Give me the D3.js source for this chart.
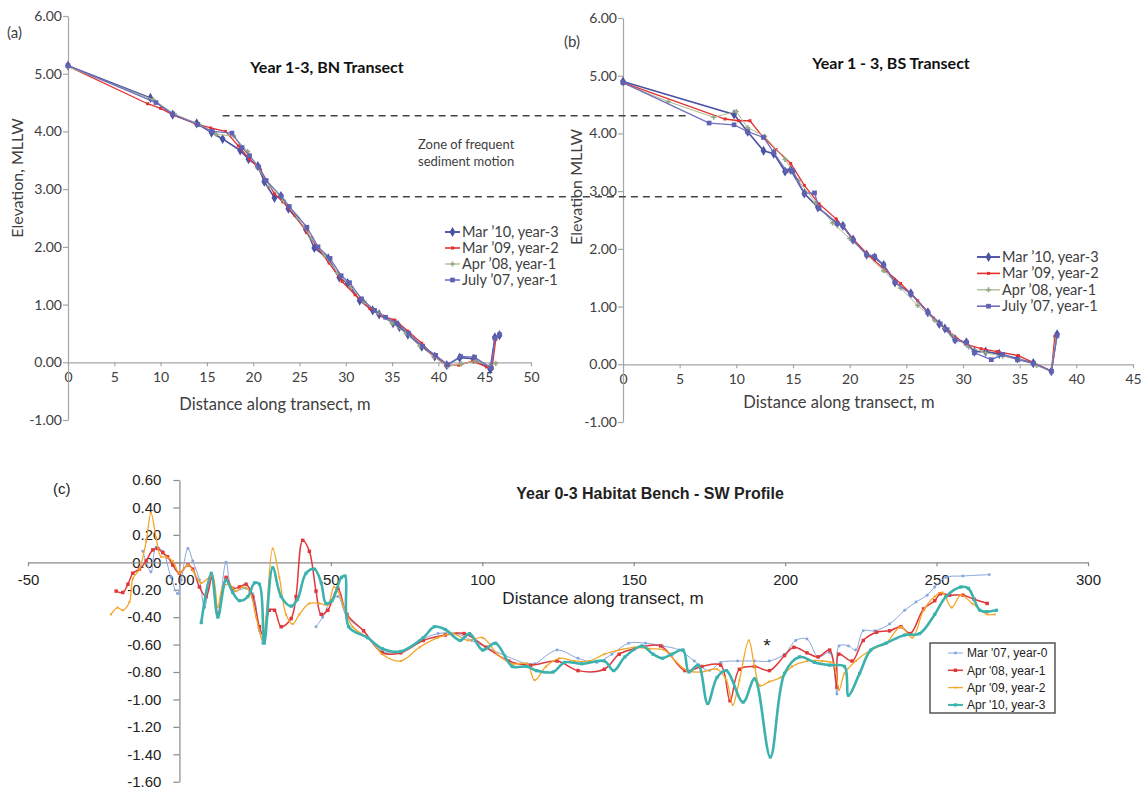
<!DOCTYPE html>
<html>
<head>
<meta charset="utf-8">
<script src="https://cdn.jsdelivr.net/npm/d3@7"></script>
<style>
body { margin: 0; background: #fff; }
svg { display: block; }
.ab text { font-family: Lato, "Open Sans", sans-serif; fill: #404040; }
.pc text { font-family: "Liberation Sans", Arial, sans-serif; fill: #222; }
</style>
</head>
<body>
<svg width="1146" height="791"></svg>
<script>
// ---- data: panel (a) BN transect, [distance m, elevation MLLW]
var bnMar10 = [[0,5.14],[8.9,4.58],[11.3,4.29],[13.9,4.14],[15.5,3.98],[16.7,3.87],[18.6,3.67],[19.5,3.52],[20.5,3.40],[21.2,3.13],[22.3,2.85],[23.0,2.88],[23.8,2.66],[25.7,2.30],[26.6,1.98],[28.1,1.80],[29.3,1.47],[30.2,1.37],[31.5,1.07],[32.9,0.90],[33.6,0.83],[35.1,0.68],[35.8,0.61],[36.7,0.48],[38.2,0.27],[39.6,0.10],[40.9,-0.05],[42.3,0.08],[43.8,0.06],[45.6,-0.12],[46.1,0.43],[46.6,0.47]];
var bnMar09 = [[0,5.13],[8.6,4.48],[10,4.40],[11.4,4.28],[13.8,4.13],[15.4,4.06],[17,4.00],[18.4,3.75],[19.6,3.52],[20.8,3.33],[22.3,2.92],[23.2,2.78],[24.5,2.55],[25.8,2.25],[27,1.98],[28.2,1.72],[29.6,1.40],[31,1.17],[32.6,0.93],[34,0.80],[35.3,0.73],[36.7,0.54],[38.2,0.33],[39.5,0.11],[40.8,-0.05],[42.2,-0.05],[43.7,0.02],[45.2,-0.08],[45.8,-0.10],[46.2,0.40]];
var bnApr08 = [[0,5.12],[9.2,4.55],[11.5,4.30],[14.2,4.12],[16,3.95],[17.9,3.92],[19.4,3.65],[20.5,3.37],[21.8,3.05],[23.3,2.80],[24.8,2.50],[26.3,2.15],[27.7,1.85],[29.1,1.55],[30.6,1.30],[32,1.05],[33.5,0.86],[35,0.68],[36.5,0.50],[38,0.28],[39.5,0.10],[41,-0.07],[42.5,-0.03],[44,0.02],[45.5,-0.06],[46.2,-0.02]];
var bnJul07 = [[0,5.14],[9.5,4.50],[11.3,4.30],[14,4.12],[15.6,4.00],[17.7,3.97],[18.8,3.72],[19.6,3.58],[20.6,3.38],[21.4,3.15],[23,2.88],[23.9,2.70],[25.8,2.34],[27,2.00],[28.3,1.80],[29.5,1.50],[30.4,1.38],[31.7,1.10],[33.1,0.90],[34.3,0.78],[35.5,0.68],[36.8,0.50],[38.3,0.28],[39.7,0.12],[41,-0.04],[42.4,0.10],[43.9,0.09],[45.7,-0.10],[46.1,0.42],[46.6,0.48]];

// ---- data: panel (b) BS transect
var bsMar10 = [[0,4.90],[9.8,4.33],[11,4.03],[12.4,3.70],[13.3,3.65],[14.3,3.34],[14.8,3.37],[16,2.96],[17.2,2.72],[18.9,2.44],[19.4,2.40],[20.3,2.16],[21.5,1.90],[22.2,1.85],[23,1.72],[24,1.42],[25.4,1.23],[26.9,0.90],[27.9,0.70],[28.4,0.62],[29.3,0.43],[30.3,0.38],[31,0.22],[32,0.22],[33.2,0.18],[34.8,0.10],[36.2,0.02],[37.8,-0.12],[38.3,0.52]];
var bsMar09 = [[0,4.88],[9,4.25],[10.2,4.22],[11.2,4.22],[12.3,3.95],[13.5,3.72],[14.8,3.48],[16,3.10],[17.3,2.78],[18.8,2.52],[20.3,2.17],[21.7,1.88],[23.2,1.62],[24.5,1.40],[26,1.10],[27.4,0.80],[28.8,0.56],[30.2,0.35],[31.6,0.27],[33,0.22],[34.9,0.15],[36.3,0.02],[37.8,-0.12],[38.1,0.48]];
var bsApr08 = [[0,4.87],[4,4.55],[8,4.28],[10,4.38],[11,4.10],[12.5,3.95],[14.3,3.55],[15.5,3.18],[17,2.80],[18.5,2.45],[20,2.18],[21.5,1.90],[23,1.62],[24.5,1.32],[26,1.02],[27.5,0.76],[29,0.50],[30.5,0.30],[32,0.20],[33.5,0.14],[35,0.08],[36.5,-0.02],[37.8,-0.12],[38.2,0.46]];
var bsJul07 = [[0,4.88],[7.6,4.18],[9.8,4.15],[11,4.03],[12.4,3.93],[13.3,3.67],[14.4,3.35],[15,3.35],[16,2.96],[16.9,2.97],[17.3,2.70],[18.9,2.44],[19.4,2.40],[20.3,2.15],[21.5,1.90],[22.2,1.87],[23,1.72],[24,1.42],[25.4,1.22],[26.9,0.90],[28,0.70],[28.6,0.60],[29.3,0.42],[30.3,0.38],[31,0.20],[32.5,0.08],[33.5,0.17],[34.8,0.08],[36.2,0.02],[37.8,-0.12],[38.3,0.50]];

var abLabels = ["Mar \u201910, year-3", "Mar \u201909, year-2", "Apr \u201908,  year-1", "July \u201907, year-1"];
var abTicksX_a = [0,5,10,15,20,25,30,35,40,45,50];
var abTicksX_b = [0,5,10,15,20,25,30,35,40,45];
var abTicksY = [-1,0,1,2,3,4,5,6];

// zone of frequent sediment motion (elevations, start in (a), end in (b))
var zoneElev = [4.27, 2.87];
var zoneStartA = [16.7, 24.5];
var zoneEndB = [5.9, 14.4];

// ---- data: panel (c) SW profile
var c07 = [[-12.1,0.08],[-9.4,-0.07],[-7.7,0.11],[-5.5,0.08],[-2.8,-0.11],[-0.6,-0.23],[0.6,-0.13],[2.8,0.10],[4.4,0.01],[6.6,-0.13],[8.3,-0.33],[10.5,-0.11],[12.7,-0.38],[15.4,0.0],[17.6,-0.21],[22,-0.19],[24.2,-0.23],[26.4,-0.50],[27.5,-0.59],null,[45.1,-0.47],[47.3,-0.40],[49.5,-0.30],[52.3,-0.25],[55.3,-0.40],[60.8,-0.50],[67,-0.65],[73.1,-0.65],[79.3,-0.57],[85.4,-0.52],[91.5,-0.52],[96.4,-0.57],[101.3,-0.62],[107.5,-0.68],[114.8,-0.74],[117.3,-0.74],[124.7,-0.64],[131.6,-0.70],[137.8,-0.73],[142.8,-0.67],[148.3,-0.59],[153.9,-0.59],[159.5,-0.61],[165.1,-0.64],[170,-0.72],[175,-0.79],[178.7,-0.73],[184.3,-0.72],[189.9,-0.72],[194.8,-0.72],[199.8,-0.67],[203.5,-0.57],[207.2,-0.56],[210.9,-0.69],[214.7,-0.66],[217.1,-0.96],[217.8,-0.61],[220.9,-0.61],[223.3,-0.64],[225.8,-0.50],[229.5,-0.50],[234.5,-0.45],[239.5,-0.35],[243.2,-0.29],[246.9,-0.24],[249.4,-0.18],[253.1,-0.11],[258.7,-0.10],[267.4,-0.09]];
var c08 = [[-20.9,-0.21],[-18.7,-0.22],[-17,-0.16],[-15.4,-0.08],[-13.2,-0.05],[-11,0.01],[-8.8,0.09],[-7.2,0.10],[-5.5,0.07],[-3.9,0.04],[-2.2,-0.02],[0,-0.08],[2.8,-0.02],[4.4,-0.05],[6.6,-0.18],[8.8,-0.25],[10.8,-0.11],[12.7,-0.38],[15.4,-0.11],[17.6,-0.19],[19.8,-0.18],[22,-0.16],[24.2,-0.25],[26.4,-0.47],[28,-0.55],[29.7,-0.35],[31.4,-0.35],[33.6,-0.47],[36.9,-0.41],[38.5,-0.25],[40.7,0.16],[42.9,0.08],[45.1,-0.21],[46.8,-0.38],[49,-0.35],[52.3,-0.19],[55.3,-0.38],[60.8,-0.50],[67,-0.66],[73.1,-0.66],[80.5,-0.57],[87.8,-0.53],[94,-0.52],[101.3,-0.62],[108.7,-0.72],[116,-0.75],[124.7,-0.72],[131.6,-0.79],[140.3,-0.78],[145.2,-0.67],[150.2,-0.63],[158.9,-0.61],[166.9,-0.79],[172.5,-0.76],[178.7,-0.75],[181.8,-1.01],[184.9,-0.78],[189.9,-0.76],[194.8,-0.79],[199.8,-0.68],[202.9,-0.62],[207.2,-0.66],[210.9,-0.69],[214.7,-0.64],[217.1,-0.91],[217.7,-0.67],[222.1,-0.72],[225.8,-0.57],[230.2,-0.51],[234.5,-0.50],[238.2,-0.47],[241.3,-0.52],[245.7,-0.34],[249.4,-0.28],[251.2,-0.23],[254.3,-0.24],[258.7,-0.24],[262.4,-0.27],[266.7,-0.30]];
var c09 = [[-22.6,-0.38],[-20.4,-0.33],[-18.7,-0.35],[-16.5,-0.29],[-15.4,-0.12],[-13.2,-0.05],[-11,0.15],[-9.4,0.36],[-7.7,0.18],[-6.1,0.04],[-4.4,0.04],[-2.2,0.01],[0,-0.08],[2.8,-0.02],[4.4,-0.06],[7.2,-0.15],[9.9,-0.11],[11,-0.10],[12.7,-0.33],[14.3,-0.18],[16.5,-0.16],[18.7,-0.21],[20.9,-0.18],[23.1,-0.21],[25.3,-0.40],[27.5,-0.57],[28.6,-0.40],[30.8,0.10],[33,-0.11],[35.2,-0.38],[37.4,-0.45],[39.6,-0.38],[42.9,-0.30],[46.2,-0.30],[49,-0.31],[51,-0.18],[52.3,-0.21],[54.7,-0.35],[57.2,-0.47],[63.3,-0.57],[67,-0.67],[73.1,-0.72],[79.3,-0.62],[85.4,-0.55],[90.3,-0.52],[95.2,-0.57],[100.1,-0.55],[105,-0.67],[109.9,-0.74],[114.8,-0.74],[117.3,-0.86],[121,-0.76],[125.4,-0.70],[130.4,-0.72],[135.3,-0.72],[140.3,-0.67],[145.2,-0.64],[150.2,-0.62],[155.2,-0.63],[160.1,-0.64],[163.8,-0.72],[167.6,-0.79],[172.5,-0.80],[177.5,-0.78],[180.6,-0.86],[182.7,-1.04],[184.9,-0.86],[188,-0.57],[189.9,-0.76],[191.7,-0.90],[194.8,-0.87],[198.5,-0.84],[202.3,-0.76],[207.2,-0.72],[212.2,-0.72],[215.9,-0.74],[217.8,-0.93],[219.6,-0.81],[223.3,-0.72],[228.3,-0.64],[233.3,-0.59],[238.2,-0.47],[242,-0.55],[245.7,-0.35],[249.4,-0.25],[251.9,-0.22],[255,-0.33],[258,-0.24],[261.8,-0.30],[266.7,-0.38],[269.2,-0.38]];
var c10 = [[7.2,-0.44],[10.5,-0.08],[12.7,-0.40],[15.4,-0.13],[17.6,-0.22],[19.8,-0.28],[22.6,-0.25],[24.8,-0.15],[26.4,-0.16],[28,-0.59],[30.8,-0.04],[33.6,-0.25],[36.9,-0.32],[39,-0.27],[41.8,-0.08],[44.6,-0.05],[46.8,-0.15],[48.4,-0.30],[50.4,-0.28],[53.5,-0.11],[54.7,-0.10],[55.9,-0.47],[62.1,-0.55],[67,-0.63],[73.1,-0.65],[80.5,-0.55],[84.2,-0.47],[87.8,-0.49],[92.7,-0.57],[95.8,-0.52],[100.1,-0.64],[104.4,-0.59],[109.9,-0.76],[114.8,-0.76],[117.9,-0.79],[123.4,-0.80],[127.1,-0.73],[132.8,-0.74],[140.3,-0.72],[143.4,-0.79],[147.1,-0.69],[152.7,-0.61],[156.4,-0.67],[159.5,-0.70],[162.6,-0.67],[166.3,-0.64],[168.2,-0.80],[171.3,-0.75],[174.4,-1.03],[177.5,-0.84],[180.6,-0.79],[186.1,-1.02],[189.9,-0.85],[195.1,-1.42],[199.8,-0.81],[204.7,-0.69],[209.7,-0.73],[214.7,-0.75],[219.6,-0.76],[220.9,-0.97],[224.6,-0.81],[228.3,-0.64],[233.3,-0.59],[239.5,-0.53],[244.4,-0.52],[249.4,-0.38],[253.1,-0.25],[258,-0.18],[260.5,-0.19],[264.3,-0.35],[266.7,-0.36],[269.8,-0.35]];

var cLabels = ["Mar '07, year-0", "Apr '08, year-1", "Apr '09, year-2", "Apr '10, year-3"];
var cTicksX = [-50,0,50,100,150,200,250,300];
var cTickLabelsX = ["-50","0.00","50","100","150","200","250","300"];
var cTicksY = [0.6,0.4,0.2,0,-0.2,-0.4,-0.6,-0.8,-1.0,-1.2,-1.4,-1.6];
var asterisk = [194, -0.58];

var svg = d3.select("svg");

// plain hyphen minus, like the original figure
var fmt2 = function (d) { return d3.format(".2f")(d).replace("\u2212", "-"); };

// styles for the transect series (a) and (b)
var abStyles = [
    {color: "#4b52a3", width: 1.6, symbol: d3.symbolDiamond, size: 30, mcolor: "#4b52a3"},
    {color: "#e3302f", width: 1.3, symbol: d3.symbolSquare, size: 9, mcolor: "#e3302f"},
    {color: "#a9bb8e", width: 1, symbol: d3.symbolCross, size: 14, mcolor: "#98a884"},
    {color: "#6f70bd", width: 1.3, symbol: d3.symbolSquare, size: 22, mcolor: "#5f61b3"}
];

function styleAxis(g, col, fs) {
    g.selectAll(".domain").attr("stroke", col).attr("stroke-width", 1.2);
    g.selectAll(".tick line").attr("stroke", col).attr("stroke-width", 1.2);
    g.selectAll(".tick text").attr("font-size", fs).attr("font-family", null).attr("fill", null);
}

function draw_transect(opts) {
    var g = svg.append("g").attr("class", "ab");
    var x = d3.scaleLinear().domain(opts.xdom).range(opts.xr);
    var y = d3.scaleLinear().domain([-1, 6]).range(opts.yr);

    var gx = g.append("g")
        .attr("transform", "translate(0," + y(0) + ")")
        .call(d3.axisBottom(x).tickValues(opts.xticks).tickSize(4).tickPadding(6)
            .tickSizeOuter(0).tickFormat(d3.format("d")));
    styleAxis(gx, "#a6a6a6", 14);

    var gy = g.append("g")
        .attr("transform", "translate(" + x(0) + ",0)")
        .call(d3.axisLeft(y).tickValues(abTicksY).tickSize(5).tickPadding(1)
            .tickSizeOuter(0).tickFormat(fmt2));
    styleAxis(gy, "#a6a6a6", 14);

    var line = d3.line().x(function (d) { return x(d[0]); }).y(function (d) { return y(d[1]); });

    opts.series.forEach(function (s, i) {
        var st = abStyles[i];
        g.append("path")
            .datum(s)
            .attr("fill", "none")
            .attr("stroke", st.color)
            .attr("stroke-width", st.width)
            .attr("d", line);
        g.append("g").selectAll("path")
            .data(s)
            .enter().append("path")
            .attr("transform", function (d) { return "translate(" + x(d[0]) + "," + y(d[1]) + ")"; })
            .attr("d", d3.symbol().type(st.symbol).size(st.size))
            .attr("fill", st.mcolor);
    });

    // titles
    g.append("text").attr("x", opts.title[1]).attr("y", opts.title[2])
        .attr("text-anchor", "middle").attr("font-size", 16).attr("font-weight", "bold")
        .style("fill", "#111").text(opts.title[0]);
    g.append("text").attr("x", opts.tag[1]).attr("y", opts.tag[2])
        .attr("font-size", 15).text(opts.tag[0]);
    g.append("text").attr("x", opts.xtitle[1]).attr("y", opts.xtitle[2])
        .attr("text-anchor", "middle").attr("font-size", 16.5).text(opts.xtitle[0]);
    g.append("text")
        .attr("transform", "translate(" + opts.ytitle[1] + "," + opts.ytitle[2] + ") rotate(-90)")
        .attr("text-anchor", "middle").attr("font-size", 16).text(opts.ytitle[0]);

    // legend
    var lg = g.append("g").attr("transform", "translate(" + opts.legend[0] + "," + opts.legend[1] + ")");
    abLabels.forEach(function (t, i) {
        var st = abStyles[i];
        var yy = i * opts.legend[2];
        lg.append("line").attr("x1", 0).attr("x2", opts.legend[3]).attr("y1", yy).attr("y2", yy)
            .attr("stroke", st.color).attr("stroke-width", st.width + 0.3);
        lg.append("path").attr("transform", "translate(" + (opts.legend[3] / 2) + "," + yy + ")")
            .attr("d", d3.symbol().type(st.symbol).size(st.size)).attr("fill", st.mcolor);
        lg.append("text").attr("x", opts.legend[3] + 2).attr("y", yy).attr("dy", "0.35em")
            .attr("font-size", 14.5).text(t);
    });
    return {x: x, y: y};
}

var A = draw_transect({
    xdom: [0, 50], xr: [68, 531], yr: [420, 16], xticks: abTicksX_a,
    series: [bnMar10, bnMar09, bnApr08, bnJul07],
    title: ["Year 1-3, BN Transect", 327, 73],
    tag: ["(a)", 7, 38],
    xtitle: ["Distance along transect, m", 275, 410],
    ytitle: ["Elevation, MLLW", 23, 178],
    legend: [445, 232, 16, 15]
});

var B = draw_transect({
    xdom: [0, 45], xr: [623, 1133], yr: [422, 18], xticks: abTicksX_b,
    series: [bsMar10, bsMar09, bsApr08, bsJul07],
    title: ["Year 1 - 3, BS Transect", 891, 69],
    tag: ["(b)", 564, 47],
    xtitle: ["Distance along transect, m", 839, 408],
    ytitle: ["Elevation MLLW", 582, 187],
    legend: [977, 257, 16.4, 23]
});

// dashed zone lines across panels (a) and (b)
zoneElev.forEach(function (e, i) {
    svg.append("line")
        .attr("x1", A.x(zoneStartA[i])).attr("x2", B.x(zoneEndB[i]))
        .attr("y1", A.y(e)).attr("y2", A.y(e))
        .attr("stroke", "#444").attr("stroke-width", 1.5)
        .attr("stroke-dasharray", "7,5");
});
var zt = svg.append("g").attr("class", "ab");
zt.append("text").attr("x", 418).attr("y", 149).attr("font-size", 13).text("Zone of frequent");
zt.append("text").attr("x", 418).attr("y", 166).attr("font-size", 13).text("sediment motion");

// ---- panel (c)
var cStyles = [
    {color: "#86a6de", width: 1, symbol: d3.symbolCircle, size: 7},
    {color: "#e0373a", width: 1.5, symbol: d3.symbolSquare, size: 12},
    {color: "#f4a62a", width: 1.3, symbol: d3.symbolSquare, size: 4},
    {color: "#3cb2ae", width: 2.6, symbol: d3.symbolSquare, size: 10}
];

function draw_profile() {
    var g = svg.append("g").attr("class", "pc");
    var x = d3.scaleLinear().domain([-50, 300]).range([28, 1088]);
    var y = d3.scaleLinear().domain([-1.6, 0.6]).range([781.7, 480]);

    var gy = g.append("g")
        .attr("transform", "translate(" + x(0) + ",0)")
        .call(d3.axisLeft(y).tickValues(cTicksY).tickSize(6).tickPadding(12)
            .tickSizeOuter(0).tickFormat(fmt2));
    styleAxis(gy, "#8a8a8a", 15);

    var gx = g.append("g")
        .attr("transform", "translate(0," + y(0) + ")")
        .call(d3.axisBottom(x).tickValues(cTicksX).tickSize(4).tickPadding(8)
            .tickSizeOuter(0).tickFormat(function (d, i) { return cTickLabelsX[i]; }));
    styleAxis(gx, "#8a8a8a", 15);

    var line = d3.line()
        .defined(function (d) { return d !== null; })
        .x(function (d) { return x(d[0]); })
        .y(function (d) { return y(d[1]); })
        .curve(d3.curveCatmullRom.alpha(0.5));

    [c07, c08, c09, c10].forEach(function (s, i) {
        var st = cStyles[i];
        g.append("path")
            .datum(s)
            .attr("fill", "none")
            .attr("stroke", st.color)
            .attr("stroke-width", st.width)
            .attr("d", line);
        g.append("g").selectAll("path")
            .data(s.filter(function (d) { return d !== null; }))
            .enter().append("path")
            .attr("transform", function (d) { return "translate(" + x(d[0]) + "," + y(d[1]) + ")"; })
            .attr("d", d3.symbol().type(st.symbol).size(st.size))
            .attr("fill", st.color);
    });

    g.append("text").attr("x", 650).attr("y", 499).attr("text-anchor", "middle")
        .attr("font-size", 16).attr("font-weight", "bold").text("Year 0-3 Habitat Bench - SW Profile");
    g.append("text").attr("x", 603).attr("y", 604).attr("text-anchor", "middle")
        .attr("font-size", 17).text("Distance along transect, m");
    g.append("text").attr("x", 53).attr("y", 494).attr("font-size", 15)
        .attr("font-family", "Lato, sans-serif").text("(c)");
    g.append("text").attr("x", x(asterisk[0])).attr("y", y(asterisk[1]))
        .attr("text-anchor", "middle").attr("dy", "0.55em").attr("font-size", 19).text("*");

    // legend
    var lg = g.append("g").attr("transform", "translate(930,643)");
    lg.append("rect").attr("width", 125).attr("height", 70)
        .attr("fill", "#fff").attr("stroke", "#555").attr("stroke-width", 1.5);
    cLabels.forEach(function (t, i) {
        var st = cStyles[i];
        var yy = 10 + i * 17.3;
        lg.append("line").attr("x1", 18).attr("x2", 33).attr("y1", yy).attr("y2", yy)
            .attr("stroke", st.color).attr("stroke-width", Math.min(st.width, 2));
        lg.append("path").attr("transform", "translate(25.5," + yy + ")")
            .attr("d", d3.symbol().type(st.symbol).size(st.size)).attr("fill", st.color);
        lg.append("text").attr("x", 37).attr("y", yy).attr("dy", "0.35em")
            .attr("font-size", 12).text(t);
    });
}

draw_profile();
</script>
</body>
</html>
